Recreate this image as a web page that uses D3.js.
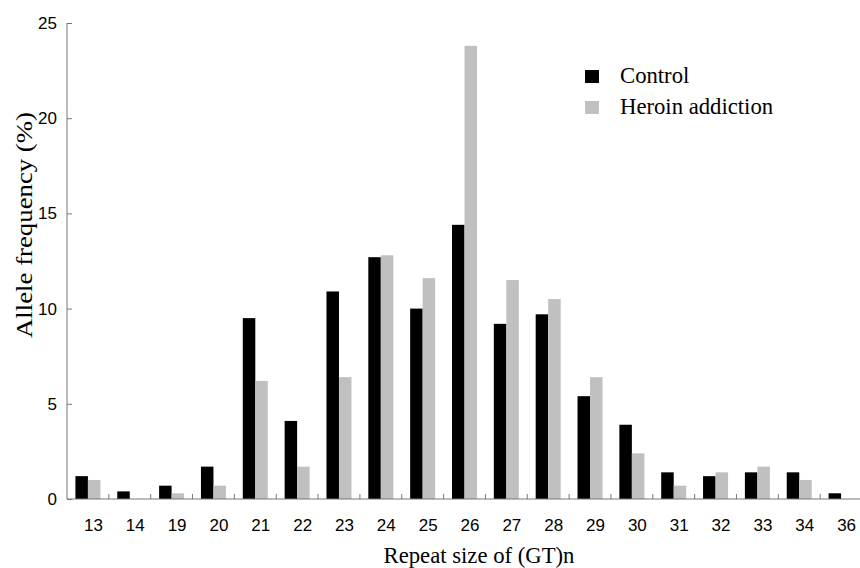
<!DOCTYPE html>
<html><head><meta charset="utf-8">
<script src="https://cdn.jsdelivr.net/npm/d3@7"></script>
<style>body{margin:0;background:#fff}</style>
</head><body>
<svg id="c" width="860" height="568"></svg>
<script>
const categories = ["13","14","19","20","21","22","23","24","25","26","27","28","29","30","31","32","33","34","36"];
const control = [1.2,0.4,0.7,1.7,9.5,4.1,10.9,12.7,10.0,14.4,9.2,9.7,5.4,3.9,1.4,1.2,1.4,1.4,0.3];
const heroin  = [1.0,0,0.3,0.7,6.2,1.7,6.4,12.8,11.6,23.8,11.5,10.5,6.4,2.4,0.7,1.4,1.7,1.0,0];
const yTicks = [0,5,10,15,20,25];
const seriesNames = ["Control","Heroin addiction"];
const seriesColors = ["#000000","#c0c0c0"];

const svg = d3.select("#c");
const x0 = 67, x1 = 862, yTop = 23, yBot = 499;
const x = d3.scaleBand().domain(categories).range([x0, x1]).paddingInner(0).paddingOuter(0);
const sub = d3.scaleBand().domain([0,1]).range([0, 25]);
const y = d3.scaleLinear().domain([0,25]).range([yBot, yTop]);
const axisColor = "#777";
const serif = "Liberation Serif, Times New Roman, serif";
const sans = "Liberation Sans, Arial, sans-serif";

// bars
const data = categories.map((c,i)=>({c, v:[control[i], heroin[i]]}));
const g = svg.append("g");
data.forEach(d=>{
  d.v.forEach((v,k)=>{
    if (v<=0) return;
    g.append("rect")
      .attr("x", x(d.c) + x.bandwidth()/2 - 12.5 + sub(k))
      .attr("width", sub.bandwidth())
      .attr("y", y(v))
      .attr("height", y(0)-y(v))
      .attr("fill", seriesColors[k]);
  });
});

// y axis
const yAxis = d3.axisLeft(y).tickValues(yTicks).tickSize(-5).tickPadding(10).tickFormat(d3.format("d"));
const ya = svg.append("g").attr("transform",`translate(${x0},0)`).call(yAxis);
ya.select(".domain").attr("stroke",axisColor).attr("d",`M0,${yTop}V${yBot}`);
ya.selectAll(".tick line").attr("stroke",axisColor);
ya.selectAll(".tick text").attr("font-family",sans).attr("font-size",17).attr("fill","#000");

// x axis
const xAxis = d3.axisBottom(x).tickSize(0).tickPadding(0);
const xa = svg.append("g").attr("transform",`translate(0,${yBot})`).call(xAxis);
xa.select(".domain").attr("stroke",axisColor).attr("d",`M${x0},0H${x1}`);
xa.selectAll(".tick text").attr("font-family",sans).attr("font-size",17).attr("fill","#000")
  .attr("dy",null).attr("y",32).attr("dx",5.5);
// boundary ticks
xa.selectAll(".bt").data(categories.slice(1)).enter().append("line")
  .attr("x1",d=>x(d)).attr("x2",d=>x(d)).attr("y1",0).attr("y2",-5).attr("stroke",axisColor);

// axis titles
svg.append("text").attr("x",479).attr("y",563).attr("text-anchor","middle")
  .attr("font-family",serif).attr("font-size",22.7).text("Repeat size of (GT)n");
svg.append("text").attr("transform","translate(32,225) rotate(-90)").attr("text-anchor","middle")
  .attr("font-family",serif).attr("font-size",23).attr("textLength",226).attr("lengthAdjust","spacingAndGlyphs")
  .text("Allele frequency (%)");

// legend
const lg = svg.append("g");
seriesNames.forEach((n,k)=>{
  lg.append("rect").attr("x",585).attr("y",70+k*31).attr("width",14).attr("height",13).attr("fill",seriesColors[k]);
  lg.append("text").attr("x",620).attr("y",83+k*31).attr("font-family",serif)
    .attr("font-size",22.7).text(n);
});
</script>
</body></html>
